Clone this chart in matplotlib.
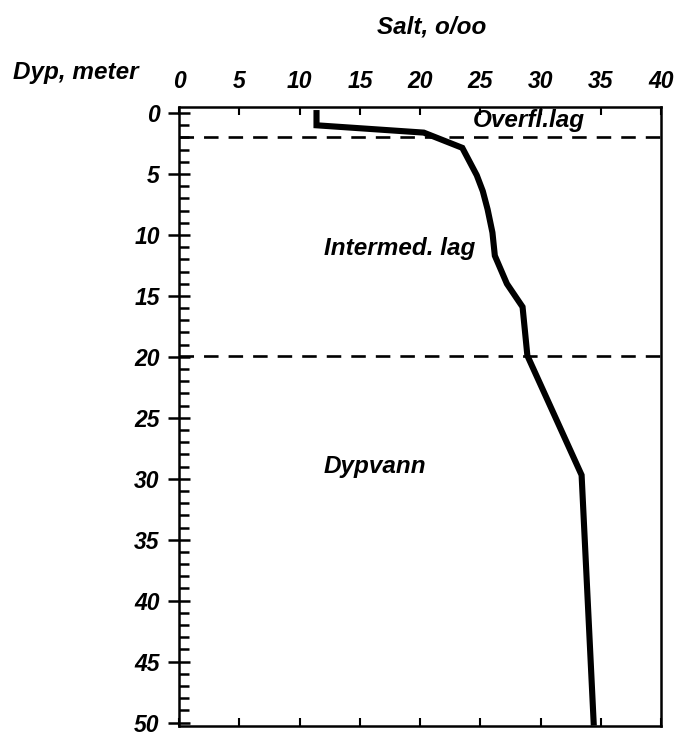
import matplotlib
matplotlib.use("Agg")
import matplotlib.pyplot as plt
from matplotlib.ticker import MultipleLocator

# Data
salt = [11.4, 11.4, 20.3, 23.5, 24.7, 25.2, 25.6, 26.0, 26.2, 27.2, 28.5, 28.9, 33.4, 34.4]
depth = [0.0, 1.0, 1.6, 2.85, 5.1, 6.4, 7.9, 9.8, 11.7, 14.0, 15.9, 19.9, 29.7, 50.0]
layer_bounds = [1.95, 19.9]
xticks = [0, 5, 10, 15, 20, 25, 30, 35, 40]
yticks = [0, 5, 10, 15, 20, 25, 30, 35, 40, 45, 50]
labels = [("Overfl.lag", 24.4, 0.6), ("Intermed. lag", 12.0, 11.1), ("Dypvann", 12.0, 29.0)]

FONT = dict(family="Liberation Sans", weight="bold", style="italic")

fig = plt.figure(figsize=(6.76, 7.38), dpi=100)
ax = fig.add_axes([0.265, 0.016, 0.713, 0.839])

ax.plot(salt, depth, color="black", lw=4.4, solid_joinstyle="miter", zorder=3)
for b in layer_bounds:
    ax.plot([0, 40], [b, b], color="black", lw=1.9, dashes=(5.5, 3.8))

for txt, x, y in labels:
    ax.text(x, y, txt, fontsize=17.5, ha="left", va="center", **FONT)

ax.set_xlim(0, 40)
ax.set_ylim(50.3, -0.5)
ax.xaxis.set_ticks_position("both")
ax.xaxis.set_label_position("top")
ax.set_xticks(xticks)
ax.set_yticks(yticks)
ax.yaxis.set_minor_locator(MultipleLocator(1))
ax.tick_params(axis="x", which="major", direction="in", length=6, width=1.5,
               top=True, bottom=True, labeltop=True, labelbottom=False, pad=10)
ax.tick_params(axis="y", which="major", direction="inout", length=16, width=1.8,
               right=False, pad=6)
ax.tick_params(axis="y", which="minor", direction="in", length=7, width=1.8, right=False)
for lab in ax.get_xticklabels() + ax.get_yticklabels():
    lab.set_fontsize(16.5)
    lab.set_fontfamily("Liberation Sans")
    lab.set_fontweight("bold")
    lab.set_fontstyle("italic")
for s in ax.spines.values():
    s.set_linewidth(1.8)

fig.text(0.638, 0.963, "Salt, o/oo", fontsize=17.5, ha="center", va="center", **FONT)
fig.text(0.019, 0.902, "Dyp, meter", fontsize=17.5, ha="left", va="center", **FONT)

fig.savefig("out.png", dpi=100)
